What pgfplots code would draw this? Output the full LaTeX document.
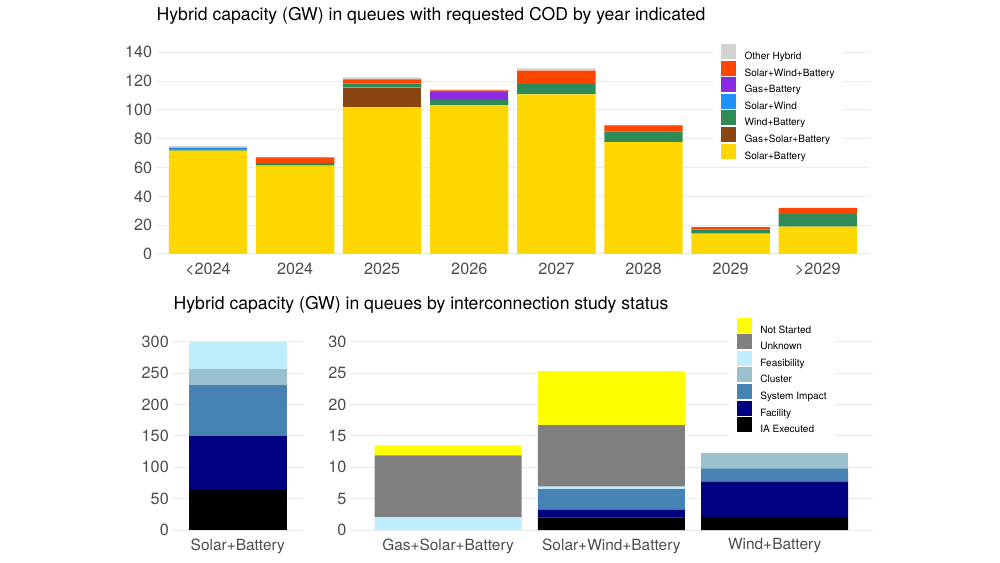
\documentclass[border=0pt]{standalone}
\usepackage{pgfplots}
\pgfplotsset{compat=1.18}
\usepackage{pgfplotstable}
\usepackage{fontspec}
\setmainfont{TeX Gyre Heros}

\definecolor{cSB}{HTML}{FFD700}
\definecolor{cGSB}{HTML}{8B4513}
\definecolor{cWB}{HTML}{2E8B57}
\definecolor{cSW}{HTML}{1E90FF}
\definecolor{cGB}{HTML}{8A2BE2}
\definecolor{cSWB}{HTML}{FF4500}
\definecolor{cOT}{HTML}{D3D3D3}
\definecolor{cNS}{HTML}{FFFF00}
\definecolor{cUN}{HTML}{808080}
\definecolor{cFE}{HTML}{BFEFFF}
\definecolor{cCL}{HTML}{9AC0CD}
\definecolor{cSI}{HTML}{4682B4}
\definecolor{cFAC}{HTML}{000080}
\definecolor{cIA}{HTML}{000000}
\definecolor{gridc}{HTML}{EBEBEB}
\definecolor{tickc}{HTML}{4D4D4D}

\pgfplotstableread{
x SB GSB WB SW GB SWB OT
0 71.7 0 0.5 1.2 0 0.4 1.2
1 61.3 0 2.0 0 0 3.7 0.4
2 102.0 13.4 2.8 0 0 3.0 1.4
3 103.4 0 3.7 0 5.5 1.0 0.7
4 110.8 0 7.2 0 0 9.2 1.7
5 77.7 0 7.4 0 0 4.2 0.3
6 14.1 0 2.8 0 0 1.8 0.2
7 19.0 0 8.8 0 0 4.1 0.2
}\cod

\pgfplotstableread{
x IA FAC SI CL FE UN NS
0 63.7 86.0 80.8 25.9 43.6 0 0
}\sbstat

\pgfplotstableread{
x IA FAC SI CL FE UN NS
0 0 0 0 0 2.0 9.9 1.6
1 2.0 1.2 3.3 0 0.4 9.8 8.6
2 2.07 5.6 2.1 2.5 0 0 0
}\otherstat

\pgfplotsset{
  base/.style={
    scale only axis, ybar stacked, bar width=0.9,
    axis line style={draw=none}, major tick length=0pt,
    ymajorgrids, grid style={gridc, line width=1bp},
    tick label style={font=\fontsize{16.3}{19}\selectfont, text=tickc},
    xticklabel style={yshift=-5bp},
    /pgf/number format/assume math mode=true,
    clip=false,
    legend cell align=left,
    legend style={draw=none, fill=white, anchor=north west,
      font=\fontsize{10.1}{12}\selectfont, inner xsep=8bp, inner ysep=4bp,
      row sep=1.1bp,
      nodes={inner sep=0pt, text height=8bp, text depth=0pt},
      /tikz/every odd column/.append style={column sep=8.4bp}},
    legend image code/.code={\fill[##1] (0bp,-3.5bp) rectangle (15bp,11.5bp);},
    reverse legend,
  },
  catlab/.style={xticklabel style={font=\fontsize{15.5}{18}\selectfont}},
}

\begin{document}
\begin{tikzpicture}
\path[use as bounding box] (0bp,0bp) rectangle (1000bp,563bp);

\node[anchor=base west, inner sep=0pt, font=\fontsize{17.7}{21}\selectfont] at (156.5bp,542.3bp)
  {Hybrid capacity (GW) in queues with requested COD by year indicated};
\node[anchor=base west, inner sep=0pt, font=\fontsize{17.7}{21}\selectfont] at (173.5bp,253bp)
  {Hybrid capacity (GW) in queues by interconnection study status};

% top panel
\begin{axis}[base,
  at={(155.7bp,309bp)}, anchor=south west,
  width=714.3bp, height=201.7bp,
  xmin=-0.6, xmax=7.6, ymin=0, ymax=140,
  xtick={0,...,7},
  xticklabels={<2024,2024,2025,2026,2027,2028,2029,>2029},
  ytick={0,20,...,140},
  legend style={at={(0.7802,1.062)}},
]
\addplot[fill=cSB, draw=none] table[x=x,y=SB]{\cod};
\addlegendentry{Solar+Battery}
\addplot[fill=cGSB, draw=none] table[x=x,y=GSB]{\cod};
\addlegendentry{Gas+Solar+Battery}
\addplot[fill=cWB, draw=none] table[x=x,y=WB]{\cod};
\addlegendentry{Wind+Battery}
\addplot[fill=cSW, draw=none] table[x=x,y=SW]{\cod};
\addlegendentry{Solar+Wind}
\addplot[fill=cGB, draw=none] table[x=x,y=GB]{\cod};
\addlegendentry{Gas+Battery}
\addplot[fill=cSWB, draw=none] table[x=x,y=SWB]{\cod};
\addlegendentry{Solar+Wind+Battery}
\addplot[fill=cOT, draw=none] table[x=x,y=OT]{\cod};
\addlegendentry{Other Hybrid}
\end{axis}

% bottom left panel
\begin{axis}[base, catlab,
  at={(172.3bp,33bp)}, anchor=south west,
  width=131bp, height=188.3bp,
  xmin=-0.6, xmax=0.6, ymin=0, ymax=300,
  xtick={0}, xticklabels={Solar+Battery},
  ytick={0,50,...,300},
]
\addplot[fill=cIA, draw=none] table[x=x,y=IA]{\sbstat};
\addplot[fill=cFAC, draw=none] table[x=x,y=FAC]{\sbstat};
\addplot[fill=cSI, draw=none] table[x=x,y=SI]{\sbstat};
\addplot[fill=cCL, draw=none] table[x=x,y=CL]{\sbstat};
\addplot[fill=cFE, draw=none] table[x=x,y=FE]{\sbstat};
\addplot[fill=cUN, draw=none] table[x=x,y=UN]{\sbstat};
\addplot[fill=cNS, draw=none] table[x=x,y=NS]{\sbstat};
\end{axis}

% bottom right panel
\begin{axis}[base, catlab,
  at={(350bp,33bp)}, anchor=south west,
  width=522.7bp, height=188.3bp,
  xmin=-0.6, xmax=2.6, ymin=0, ymax=30,
  xtick={0,1,2}, xticklabels={Gas+Solar+Battery,Solar+Wind+Battery,Wind+Battery},
  ytick={0,5,...,30},
  legend style={at={(0.7245,1.150)}},
]
\addplot[fill=cIA, draw=none] table[x=x,y=IA]{\otherstat};
\addlegendentry{IA Executed}
\addplot[fill=cFAC, draw=none] table[x=x,y=FAC]{\otherstat};
\addlegendentry{Facility}
\addplot[fill=cSI, draw=none] table[x=x,y=SI]{\otherstat};
\addlegendentry{System Impact}
\addplot[fill=cCL, draw=none] table[x=x,y=CL]{\otherstat};
\addlegendentry{Cluster}
\addplot[fill=cFE, draw=none] table[x=x,y=FE]{\otherstat};
\addlegendentry{Feasibility}
\addplot[fill=cUN, draw=none] table[x=x,y=UN]{\otherstat};
\addlegendentry{Unknown}
\addplot[fill=cNS, draw=none] table[x=x,y=NS]{\otherstat};
\addlegendentry{Not Started}
\end{axis}
\end{tikzpicture}
\end{document}
